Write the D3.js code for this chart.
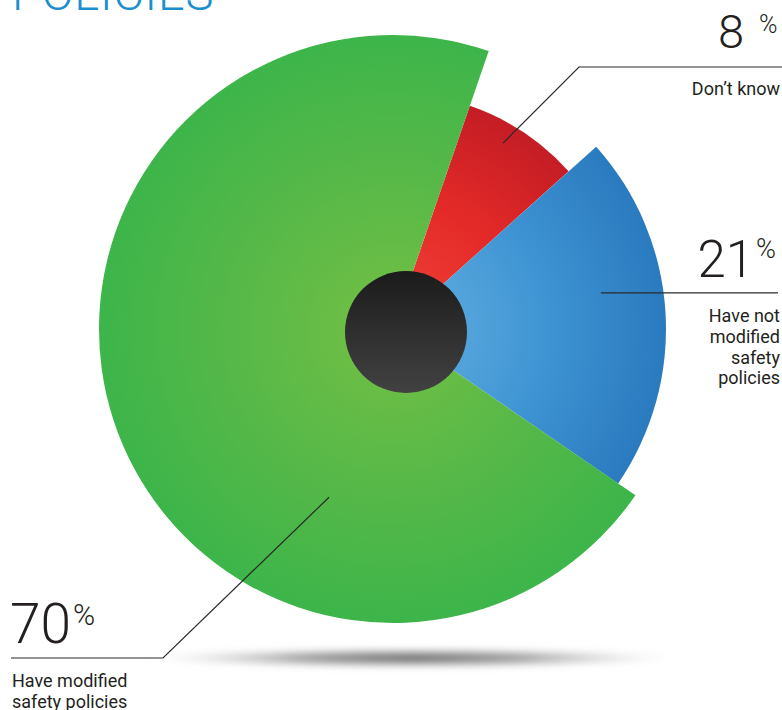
<!DOCTYPE html>
<html>
<head>
<meta charset="utf-8">
<script src="https://cdn.jsdelivr.net/npm/d3@7"></script>
<style>
  html, body { margin: 0; padding: 0; background: #ffffff; }
  svg { display: block; }
</style>
</head>
<body>
<script>
// Survey answers, in drawing order (clockwise from the top-right)
const categories = ["Don’t know", "Have not modified safety policies", "Have modified safety policies"];
const values = [8, 21, 70];
const labelLines = [
  ["Don’t know"],
  ["Have not", "modified", "safety", "policies"],
  ["Have modified", "safety policies"]
];

const W = 782, H = 710;
const cx = 393, cy = 329;
const deg = Math.PI / 180;
const start = 19 * deg;

// Visual style for each slice: outer radius and gradient stops (inner -> outer)
const sliceStyle = [
  { r: 236, stops: ["#f0433a", "#e42a28", "#c41d25"] },
  { r: 273, stops: ["#66b1e2", "#3f95d3", "#2a7abf"] },
  { r: 294, stops: ["#74c044", "#56b848", "#3db54a"] }
];

const svg = d3.select("body").append("svg")
  .attr("width", W).attr("height", H)
  .attr("font-family", "Roboto, 'Noto Sans', sans-serif");

const defs = svg.append("defs");

sliceStyle.forEach((s, i) => {
  const g = defs.append("radialGradient")
    .attr("id", "slice" + i)
    .attr("gradientUnits", "userSpaceOnUse")
    .attr("cx", 0).attr("cy", 0).attr("r", s.r);
  g.append("stop").attr("offset", "0%").attr("stop-color", s.stops[0]);
  g.append("stop").attr("offset", "55%").attr("stop-color", s.stops[1]);
  g.append("stop").attr("offset", "100%").attr("stop-color", s.stops[2]);
});

const hub = defs.append("linearGradient").attr("id", "hub")
  .attr("x1", 0).attr("y1", 0).attr("x2", 0).attr("y2", 1);
hub.append("stop").attr("offset", "0%").attr("stop-color", "#1b1b1b");
hub.append("stop").attr("offset", "100%").attr("stop-color", "#424242");

const shade = defs.append("radialGradient").attr("id", "shade");
shade.append("stop").attr("offset", "0%").attr("stop-color", "#6a6a6a").attr("stop-opacity", 1);
shade.append("stop").attr("offset", "45%").attr("stop-color", "#888888").attr("stop-opacity", 0.75);
shade.append("stop").attr("offset", "100%").attr("stop-color", "#cccccc").attr("stop-opacity", 0);

defs.append("filter").attr("id", "soft")
  .attr("x", "-20%").attr("y", "-200%").attr("width", "140%").attr("height", "500%")
  .append("feGaussianBlur").attr("stdDeviation", "6 3");

// Title, running off the top edge
svg.append("text")
  .attr("x", 12).attr("y", 10)
  .attr("font-size", 47).attr("font-weight", 300)
  .attr("letter-spacing", 0.8)
  .attr("fill", "#1a8fd0")
  .text("POLICIES");

// Floor shadow below the pie
svg.append("ellipse")
  .attr("cx", 412).attr("cy", 658)
  .attr("rx", 260).attr("ry", 11)
  .attr("fill", "url(#shade)")
  .attr("filter", "url(#soft)");

const pie = d3.pie().sort(null).value(d => d)
  .startAngle(start).endAngle(start + 2 * Math.PI);
const arcs = pie(values);

const gPie = svg.append("g").attr("transform", `translate(${cx},${cy})`);

gPie.selectAll("path.slice")
  .data(arcs)
  .join("path")
  .attr("class", "slice")
  .attr("fill", (d, i) => `url(#slice${i})`)
  .attr("d", (d, i) => d3.arc().innerRadius(0).outerRadius(sliceStyle[i].r)(d));

// Dark hub
gPie.append("circle")
  .attr("cx", 13).attr("cy", 3).attr("r", 61)
  .attr("fill", "url(#hub)");

// Callouts: leader start inside the slice, then elbow and a horizontal rule
const callouts = [
  { t: 0.40, rr: 216, elbow: [579, 67], end: 782,
    num: { x: 744, y: 48, size: 47 }, pct: { x: 759, y: 33, size: 25 },
    text: { x: 780, y: 95, anchor: "end" } },
  { t: 0.42, rr: 211, elbow: null, end: 778,
    num: { x: 754, y: 277, size: 51 }, pct: { x: 756, y: 258, size: 27 },
    text: { x: 780, y: 322, anchor: "end" } },
  { t: 0.30, rr: 180, elbow: [163, 658], end: 11,
    num: { x: 10, y: 643, size: 55 }, pct: { x: 73, y: 625, size: 30 },
    text: { x: 12, y: 687, anchor: "start" } }
];

const gLab = svg.append("g");

arcs.forEach((a, i) => {
  const c = callouts[i];
  const ang = a.startAngle + c.t * (a.endAngle - a.startAngle);
  const p = d3.pointRadial(ang, c.rr);
  const inner = [cx + p[0], cy + p[1]];
  const pts = [inner];
  if (c.elbow) {
    pts.push(c.elbow);
    pts.push([c.end, c.elbow[1]]);
  } else {
    pts.push([c.end, inner[1]]);
  }
  gLab.append("path")
    .attr("d", d3.line()(pts))
    .attr("fill", "none")
    .attr("stroke", "#2a2a2a")
    .attr("stroke-width", 1.2);

  gLab.append("text")
    .attr("x", c.num.x).attr("y", c.num.y)
    .attr("text-anchor", c.text.anchor)
    .attr("font-size", c.num.size).attr("font-weight", 300)
    .attr("fill", "#231f20")
    .text(String(values[i]));

  gLab.append("text")
    .attr("x", c.pct.x).attr("y", c.pct.y)
    .attr("font-size", c.pct.size).attr("font-weight", 300)
    .attr("fill", "#231f20")
    .text("%");

  const t = gLab.append("text")
    .attr("x", c.text.x).attr("y", c.text.y)
    .attr("text-anchor", c.text.anchor)
    .attr("font-size", 18)
    .attr("fill", "#231f20");
  labelLines[i].forEach((line, k) => {
    t.append("tspan")
      .attr("x", c.text.x)
      .attr("dy", k === 0 ? 0 : 20.8)
      .text(line);
  });
});
</script>
</body>
</html>
